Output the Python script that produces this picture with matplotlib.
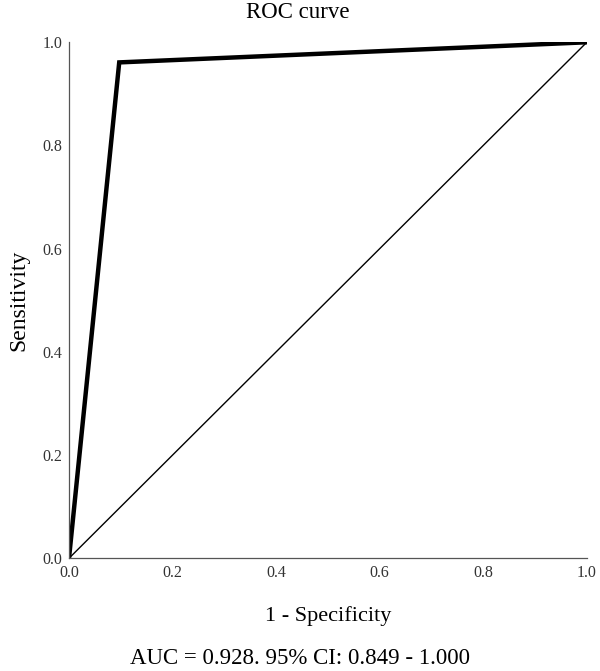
import numpy as np
import matplotlib
matplotlib.use('Agg')
import matplotlib.pyplot as plt

plt.rcParams['font.family'] = ['Liberation Serif', 'DejaVu Serif']

# ROC curve points
fpr = [0.0, 0.097, 1.0]
tpr = [0.0, 0.961, 1.0]
ref_x = [0.0, 1.0]
ref_y = [0.0, 1.0]
ticks = [0.0, 0.2, 0.4, 0.6, 0.8, 1.0]
auc_text = "AUC = 0.928. 95% CI: 0.849 - 1.000"

fig = plt.figure(figsize=(6, 6.71), dpi=100)
ax = fig.add_axes([0.115, 0.168, 0.863, 0.769])

ax.plot(ref_x, ref_y, color='black', linewidth=1.0)
ax.plot(fpr, tpr, color='black', linewidth=3.2, solid_joinstyle='miter')

ax.set_xlim(0, 1)
ax.set_ylim(0, 1)
ax.set_xticks(ticks)
ax.set_yticks(ticks)
ax.set_xticklabels(['%.1f' % t for t in ticks])
ax.set_yticklabels(['%.1f' % t for t in ticks])
ax.tick_params(length=0, labelsize=11.5, pad=5, labelcolor='#333333')

for s in ['top', 'right']:
    ax.spines[s].set_visible(False)
for s in ['left', 'bottom']:
    ax.spines[s].set_color('#555555')
    ax.spines[s].set_linewidth(0.9)

# title is centred on the figure, not the axes
fig.text(0.497, 0.982, "ROC curve", ha='center', va='center', fontsize=16.5)
ax.set_ylabel("Sensitivity", fontsize=17, labelpad=9)
ax.set_xlabel("1 - Specificity", fontsize=16, labelpad=18)
fig.text(0.5, 0.018, auc_text, ha='center', va='center', fontsize=16.5)

fig.savefig('out.png', dpi=100)
